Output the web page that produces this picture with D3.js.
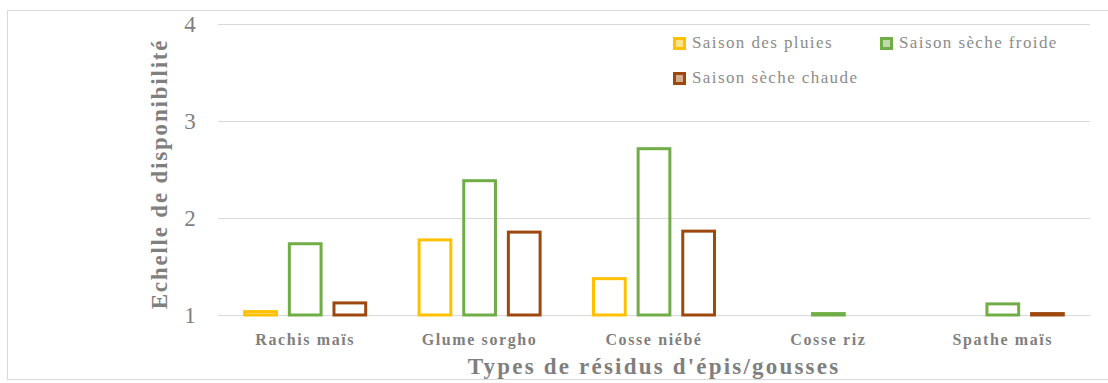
<!DOCTYPE html>
<html><head><meta charset="utf-8">
<script src="https://cdn.jsdelivr.net/npm/d3@7"></script>
<style>body{margin:0;background:#fff}svg{display:block}text{font-family:"Liberation Serif","Times New Roman","DejaVu Serif",serif}</style>
</head><body>
<svg id="c" width="1108" height="383"></svg>
<script>
const categories = ["Rachis maïs","Glume sorgho","Cosse niébé","Cosse riz","Spathe maïs"];
const seriesNames = ["Saison des pluies","Saison sèche froide","Saison sèche chaude"];
const pluies  = [1.05, 1.79, 1.39, 1.0, 1.0];
const froide  = [1.75, 2.40, 2.73, 1.03, 1.13];
const chaude  = [1.14, 1.87, 1.88, 1.0, 1.03];
const yTicks = [1,2,3,4];
const colors = ["#FFC000","#70AD47","#9E480E"];
const series = [pluies, froide, chaude];

const svg = d3.select("#c");
const ml = 218, mr = 1090, mt = 24, mb = 315;
svg.append("rect").attr("x",7.5).attr("y",10.5).attr("width",1110).attr("height",369)
  .attr("fill","none").attr("stroke","#d9d9d9");

const x = d3.scaleBand().domain(categories).range([ml, mr]);
const y = d3.scaleLinear().domain([1,4]).range([mb, mt]);
const inner = d3.scaleBand().domain(seriesNames).range([-62, 62]).paddingInner(0.222);

// gridlines
svg.append("g").selectAll("line").data(yTicks).join("line")
  .attr("x1",ml).attr("x2",mr).attr("y1",d=>y(d)+0.5).attr("y2",d=>y(d)+0.5)
  .attr("stroke","#d9d9d9").attr("stroke-width",1);

// y labels
svg.append("g").selectAll("text").data(yTicks).join("text")
  .attr("x",190).attr("y",d=>y(d)+8).attr("text-anchor","middle")
  .attr("font-size",23).attr("fill","#7f7f7f")
  .text(d=>d);

// bars
series.forEach((vals,si)=>{
  svg.append("g").selectAll("rect").data(vals.map((v,i)=>({c:categories[i],v}))).join("rect")
    .filter(d=>d.v>1.001)
    .attr("x",d=>x(d.c)+x.bandwidth()/2+inner(seriesNames[si])+1.5)
    .attr("width",inner.bandwidth()-3)
    .attr("y",d=>y(d.v)+1.5)
    .attr("height",d=>Math.max(0,y(1)-y(d.v)-1.5))
    .attr("fill","none").attr("stroke",colors[si]).attr("stroke-width",3);
});

// x labels
svg.append("g").selectAll("text").data(categories).join("text")
  .attr("x",d=>x(d)+x.bandwidth()/2).attr("y",345).attr("text-anchor","middle")
  .attr("font-weight","bold").attr("font-size",16).attr("letter-spacing",1.6)
  .attr("fill","#7f7f7f").text(d=>d);

// axis titles
svg.append("text").attr("x",(ml+mr)/2).attr("y",374).attr("text-anchor","middle")
  .attr("font-weight","bold").attr("font-size",23).attr("letter-spacing",2.2)
  .attr("fill","#7f7f7f").text("Types de résidus d'épis/gousses");
svg.append("text").attr("transform","translate(167,174) rotate(-90)").attr("text-anchor","middle")
  .attr("font-weight","bold").attr("font-size",23).attr("letter-spacing",1.8)
  .attr("fill","#7f7f7f").text("Echelle de disponibilité");

// legend
const leg = [{n:seriesNames[0],x:673,y:37,c:colors[0]},{n:seriesNames[1],x:880,y:37,c:colors[1]},{n:seriesNames[2],x:673,y:72,c:colors[2]}];
const lg = svg.append("g").selectAll("g").data(leg).join("g").attr("transform",d=>`translate(${d.x},${d.y})`);
lg.append("rect").attr("x",1.5).attr("y",1.5).attr("width",10).attr("height",10)
  .attr("fill",d=>d.c).attr("fill-opacity",0.45).attr("stroke",d=>d.c).attr("stroke-width",3);
lg.append("text").attr("x",19).attr("y",11).attr("font-size",17).attr("letter-spacing",1.4)
  .attr("fill","#8c8c8c").text(d=>d.n);
</script>
</body></html>
